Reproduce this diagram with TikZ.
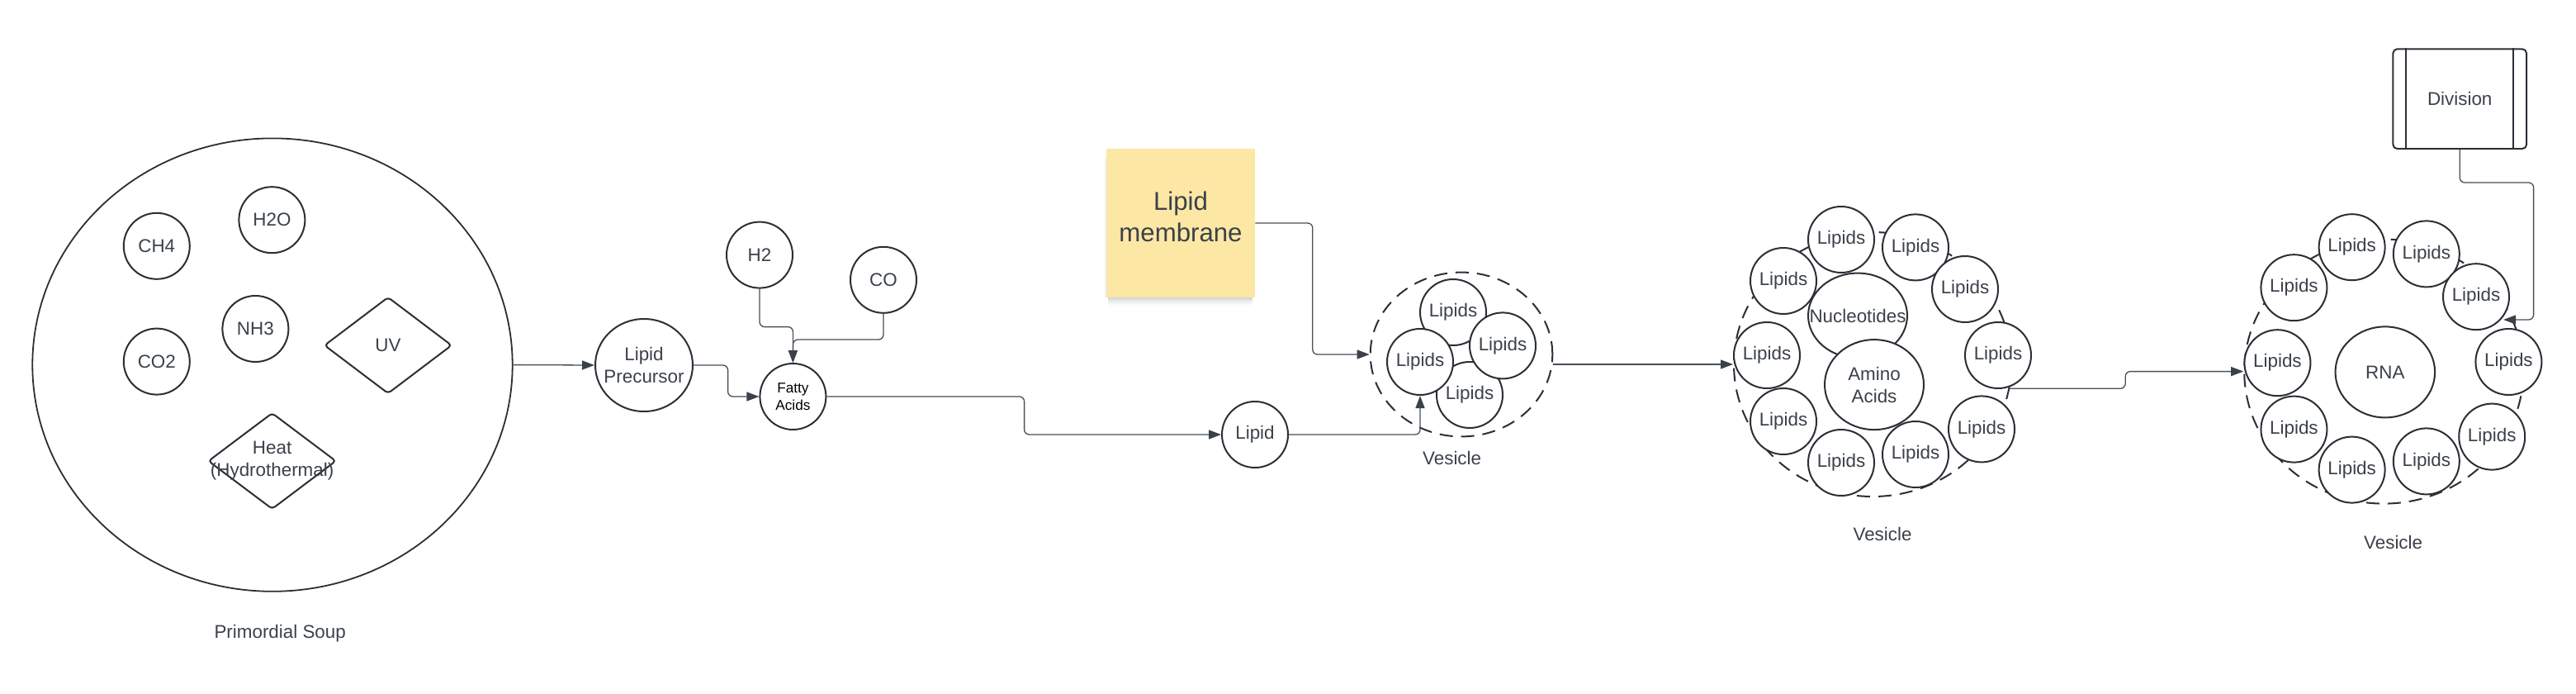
\documentclass[tikz,border=0pt]{standalone}
\usepackage{fontspec}
\setmainfont{Liberation Sans}
\usetikzlibrary{shapes.geometric, arrows.meta, calc}
\definecolor{linec}{RGB}{43,47,54}
\definecolor{connc}{RGB}{72,78,88}
\definecolor{arrc}{RGB}{58,65,74}
\definecolor{textc}{RGB}{58,65,74}
\definecolor{notec}{RGB}{252,231,164}
\tikzset{
  shp/.style={draw=linec, line width=1pt, fill=white, inner sep=0pt,
    font=\fontsize{11.2}{13.4}\selectfont, text=textc, align=center},
  circ/.style={shp, circle, minimum size=40pt},
  ell/.style={shp, ellipse},
  dia/.style={shp, diamond, rounded corners=2pt},
  txt/.style={font=\fontsize{11.2}{13.4}\selectfont, text=textc, align=center, inner sep=0pt},
  vesicle/.style={draw=linec, line width=1pt, dash pattern=on 8pt off 5pt, ellipse, inner sep=0pt},
  conn/.style={draw=connc, line width=0.65pt, rounded corners=3pt,
    -{Triangle[length=7.5pt,width=5.5pt,color=arrc]}},
}
\begin{document}
\begin{tikzpicture}[x=1pt, y=-1pt]
\useasboundingbox (0,0) rectangle (1560,420);

% ---------- Primordial soup ----------
\node[ell, minimum width=290.7pt, minimum height=274.2pt, line width=0.9pt] (soup) at (165,220.8) {};
\node[circ] (ch4) at (94.9,148.9) {CH4};
\node[circ] (h2o) at (164.7,133.1) {H2O};
\node[circ] (nh3) at (154.7,199) {NH3};
\node[circ] (co2) at (94.9,218.8) {CO2};
\node[dia, minimum width=77.3pt, minimum height=58.5pt] (uv) at (235,209) {UV};
\node[dia, minimum width=77.5pt, minimum height=58.3pt,
      label={[txt]center:Heat\\(Hydrothermal)}] (heat) at (164.8,279) {};
\node[txt] (soupT) at (169.6,383.5) {Primordial Soup};

% ---------- precursors ----------
\node[ell, minimum width=59pt, minimum height=56pt,
      label={[txt]center:Lipid\\Precursor}] (prec) at (390,221) {};
\node[circ] (h2) at (460,154.3) {H2};
\node[circ] (co) at (535,169.4) {CO};
\node[circ, font=\fontsize{8.6}{10.2}\selectfont, text=black] (fatty) at (480.2,240) {Fatty\\Acids};
\node[circ] (lipid) at (760,263) {Lipid};

% ---------- sticky note ----------
\foreach \k/\o in {0/0.16,1/0.11,2/0.07,3/0.04,4/0.02}{
  \fill[black, opacity=\o] (671,180+\k) rectangle (758.5,181+\k);
}
\fill[black, opacity=0.05] (669,96) rectangle (670,180);
\node[rectangle, fill=notec, minimum width=90pt, minimum height=90pt, inner sep=0pt,
      label={[txt, font=\fontsize{15.6}{18.8}\selectfont, yshift=3.7pt]center:Lipid\\membrane}] (note) at (715,135) {};

% ---------- vesicle 1 ----------
\node[vesicle, minimum width=110.3pt, minimum height=99.4pt] (v1) at (885,214.5) {};
\node[circ] (v1a) at (880,189) {Lipids};
\node[circ] (v1c) at (890,239) {Lipids};
\node[circ] (v1b) at (860,219) {Lipids};
\node[circ] (v1d) at (910,209.2) {Lipids};
\node[txt] (v1T) at (879.3,277.4) {Vesicle};

% ---------- vesicle 2 ----------
\node[vesicle, minimum width=168pt, minimum height=160pt] (v2) at (1134,220.5) {};
\node[circ] (v2l1) at (1115,145) {Lipids};
\node[circ] (v2l2) at (1160,149.7) {Lipids};
\node[circ] (v2l3) at (1080,170) {Lipids};
\node[circ] (v2l4) at (1190,175) {Lipids};
\node[circ] (v2l5) at (1070,215) {Lipids};
\node[circ] (v2l6) at (1210,215) {Lipids};
\node[circ] (v2l7) at (1080,255) {Lipids};
\node[circ] (v2l8) at (1200,259.7) {Lipids};
\node[circ] (v2l9) at (1115,280) {Lipids};
\node[circ] (v2l10) at (1160,275) {Lipids};
\node[ell, minimum width=60pt, minimum height=51.4pt,
      label={[txt]center:Nucleotides}] (nuc) at (1125,191) {};
\node[ell, minimum width=60pt, minimum height=54.5pt,
      label={[txt]center:Amino\\Acids}] (amino) at (1135,232.8) {};
\node[txt] (v2T) at (1140,323.3) {Vesicle};

% ---------- vesicle 3 ----------
\node[vesicle, minimum width=169pt, minimum height=160pt] (v3) at (1443.6,224.8) {};
\node[circ] (v3l1) at (1424.3,149.6) {Lipids};
\node[circ] (v3l2) at (1469.4,153.7) {Lipids};
\node[circ] (v3l3) at (1389.2,174.1) {Lipids};
\node[circ] (v3l4) at (1499.5,179.6) {Lipids};
\node[circ] (v3l5) at (1379.2,219.6) {Lipids};
\node[circ] (v3l6) at (1519.2,219) {Lipids};
\node[circ] (v3l7) at (1389.2,259.8) {Lipids};
\node[circ] (v3l8) at (1509.1,264.3) {Lipids};
\node[circ] (v3l9) at (1424.3,284.3) {Lipids};
\node[circ] (v3l10) at (1469.4,279.2) {Lipids};
\node[ell, minimum width=60.3pt, minimum height=55pt] (rna) at (1444.4,225.2) {RNA};
\node[txt] (v3T) at (1449.3,328.2) {Vesicle};

% ---------- division ----------
\node[shp, rectangle, rounded corners=2.5pt, minimum width=80.8pt, minimum height=60.3pt] (div) at (1489.6,59.85) {Division};
\draw[draw=linec, line width=1pt] ([xshift=8.3pt]div.north west) -- ([xshift=8.3pt]div.south west);
\draw[draw=linec, line width=1pt] ([xshift=-8.7pt]div.north east) -- ([xshift=-8.7pt]div.south east);
\coordinate (divend) at (1516,193.5);

% ---------- connectors ----------
\draw[conn] (soup.east) -- (prec.west);
\draw[conn] (prec.east) -- ++(20.8,0) |- (fatty.west);
\draw[conn] (h2.south) -- ++(0,23) -| (fatty.north);
\draw[conn] (co.south) -- ++(0,15.6) -| (fatty.north);
\draw[conn] (fatty.east) -- ++(119.6,0) |- (lipid.west);
\draw[conn] (note.east) -- ++(34.7,0) |- (v1.west);
\draw[conn] (lipid.east) -| (v1b.south);
\draw[conn] (v2.west -| v1.east) -- (v2.west);
\draw[conn] (v2.-10) -- ++(70,0) |- (v3.west);
\draw[conn] (div.south) -- ++(0,20) -| ([xshift=18.3pt]divend) -- (divend);
\end{tikzpicture}
\end{document}
